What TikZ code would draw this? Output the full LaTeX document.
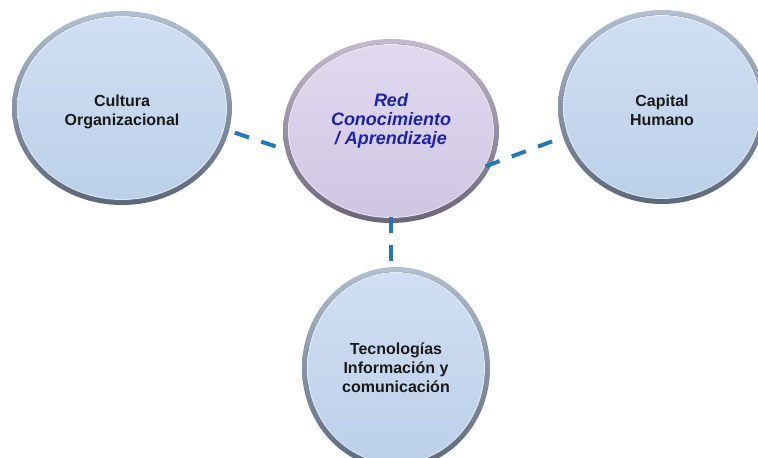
\documentclass[tikz,border=0pt]{standalone}
\usepackage{fontspec}
\setmainfont{Liberation Sans}
\usetikzlibrary{shapes.geometric}
\definecolor{bluefillA}{HTML}{D0DFF2}
\definecolor{bluefillB}{HTML}{BCD0EA}
\definecolor{bluerimA}{HTML}{B2BFD0}
\definecolor{bluerimB}{HTML}{5C687A}
\definecolor{lavfillA}{HTML}{E0D9EE}
\definecolor{lavfillB}{HTML}{CFC6E2}
\definecolor{lavrimA}{HTML}{C2BACF}
\definecolor{lavrimB}{HTML}{6C6478}
\definecolor{connblue}{HTML}{2876BA}
\definecolor{redtext}{HTML}{1C22B0}
\definecolor{darktext}{HTML}{1A1A1A}
\tikzset{
  bluerim/.style={ellipse, inner sep=0pt, top color=bluerimA, bottom color=bluerimB},
  bluefill/.style={top color=bluefillA, bottom color=bluefillB},
  lavrim/.style={ellipse, inner sep=0pt, top color=lavrimA, bottom color=lavrimB},
  lavfill/.style={top color=lavfillA, bottom color=lavfillB},
  shine/.style={draw=white, draw opacity=0.45, line width=1pt},
  outertext/.style={align=center, text=darktext, font=\bfseries\fontsize{16}{19}\selectfont},
  centertext/.style={align=center, text=redtext, font=\bfseries\itshape\fontsize{18}{19}\selectfont},
  conn/.style={draw=connblue, line width=4pt, dash pattern=on 15pt off 13pt}
}
\newcommand\bubble[6]{%
  \node[#6rim, minimum width=#4*2pt, minimum height=#5*2pt] (#1) at (#2,#3) {};
  \fill[#6fill] (#1.center) ellipse[x radius=#4pt-5pt, y radius=#5pt-5pt];
  \draw[shine] (#1.center) ellipse[x radius=#4pt-5.5pt, y radius=#5pt-5.5pt];
}
\begin{document}
\begin{tikzpicture}[x=1pt, y=-1pt]
\useasboundingbox[fill=white] (0,0) rectangle (758,458);
\bubble{L}{122}{108}{110}{97}{blue}
\bubble{C}{391}{131}{108}{92}{lav}
\bubble{R}{662}{107}{104}{97}{blue}
\bubble{B}{396}{368}{94}{101}{blue}
\node[outertext] (Lt) at (122,112) {Cultura\\Organizacional};
\node[centertext] (Ct) at (391,121) {Red\\Conocimiento\\/ Aprendizaje};
\node[outertext] (Rt) at (662,110) {Capital\\Humano};
\node[outertext] (Bt) at (396,368) {Tecnologías\\Información y\\comunicación};
\draw[conn, shorten <=6pt] (L.-12) -- (C.190);
\draw[conn, shorten <=-7pt] (C.-18) -- (R.197);
\draw[conn, dash pattern=on 16pt off 12pt, shorten <=-6pt, shorten >=5pt] (C.south) -- (C.south |- B.north);
\end{tikzpicture}
\end{document}
